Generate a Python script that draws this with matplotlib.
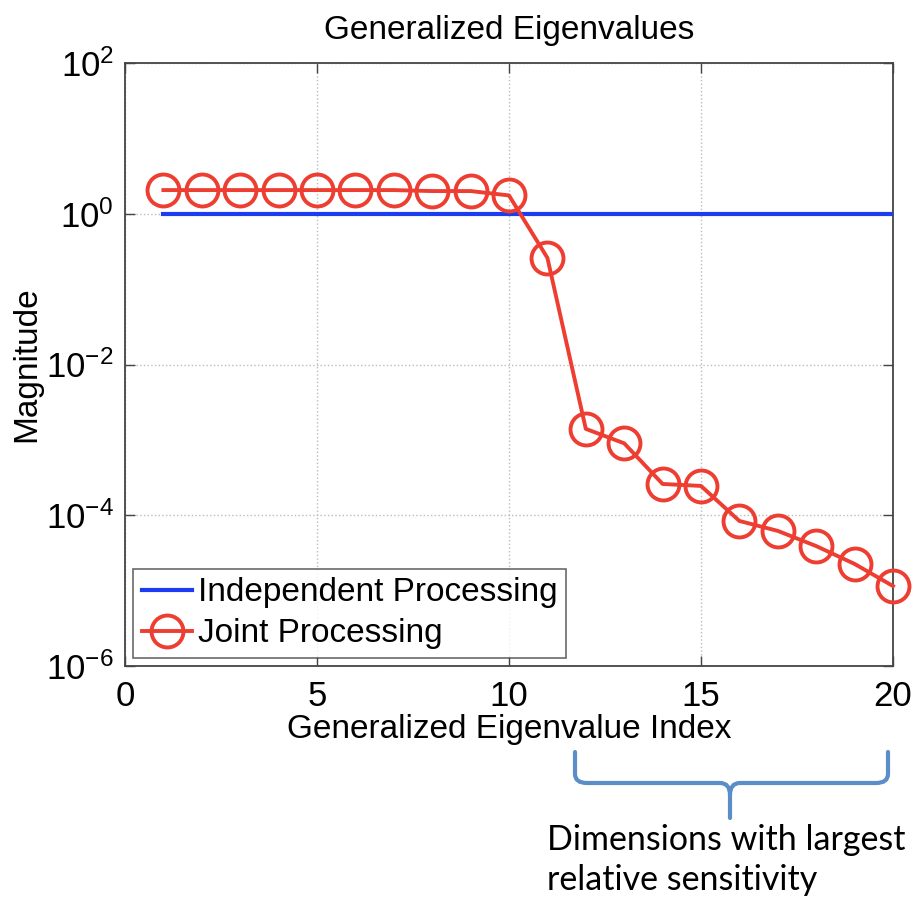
import matplotlib
matplotlib.use('Agg')
import matplotlib.pyplot as plt
from matplotlib.path import Path
from matplotlib.patches import PathPatch

plt.rcParams['font.family'] = ['Liberation Sans', 'DejaVu Sans']
plt.rcParams['mathtext.fontset'] = 'custom'
plt.rcParams['mathtext.rm'] = 'Liberation Sans'
plt.rcParams['mathtext.it'] = 'Liberation Sans'

# data
index = list(range(1, 21))
independent = [1.0] * 20
joint = [2.06, 2.06, 2.06, 2.06, 2.06, 2.06, 2.06, 2.0, 2.0, 1.75,
         0.26, 1.4e-3, 9.0e-4, 2.6e-4, 2.45e-4, 8.4e-5, 6.2e-5, 3.9e-5, 2.26e-5, 1.15e-5]
xticks = [0, 5, 10, 15, 20]
yticks = [1e-6, 1e-4, 1e-2, 1e0, 1e2]
ytick_labels = [r'$10^{-6}$', r'$10^{-4}$', r'$10^{-2}$', r'$10^{0}$', r'$10^{2}$']

W, H = 916, 902
fig = plt.figure(figsize=(W / 100, H / 100), dpi=100)
ax = fig.add_axes([125 / W, 1 - 666 / H, 768 / W, 603 / H])

ax.plot(index, independent, color='#1c3cf2', lw=3.0, label='Independent Processing', zorder=3)
ax.plot(index, joint, color='#ee3d31', lw=2.8, marker='o', markersize=23,
        markerfacecolor='none', markeredgewidth=2.8, label='Joint Processing',
        zorder=4, clip_on=False)

ax.set_yscale('log')
ax.set_xlim(0, 20)
ax.set_ylim(1e-6, 1e2)
ax.set_xticks(xticks)
ax.set_yticks(yticks)
ax.set_yticklabels(ytick_labels)
ax.minorticks_off()
ax.tick_params(direction='in', length=7, width=1, top=True, right=True,
               labelsize=25, color='#444444')
ax.tick_params(axis='x', pad=10)
ax.tick_params(axis='y', pad=8)
ax.grid(True, linestyle=':', color='#bbbbbb', lw=1)
for s in ax.spines.values():
    s.set_color('#444444')
    s.set_linewidth(1.3)

ax.set_title('Generalized Eigenvalues', fontsize=24, pad=17)
ax.set_xlabel('Generalized Eigenvalue Index', fontsize=24, labelpad=1)
ax.set_ylabel('Magnitude', fontsize=24, labelpad=3)

leg = ax.legend(loc='lower left', fontsize=24, frameon=True, fancybox=False,
                borderaxespad=0.25, handlelength=1.5, handletextpad=0.2,
                borderpad=0.25, labelspacing=0.3)
leg.get_frame().set_edgecolor('#444444')
leg.get_frame().set_linewidth(1.2)

# bracket under the x axis
def fp(x, y):
    return (x / W, 1 - y / H)

verts = [fp(575, 752), fp(575, 774), fp(575, 783), fp(587, 783),
         fp(720, 783), fp(730, 783), fp(730, 795), fp(730, 818),
         fp(730, 795), fp(730, 783), fp(740, 783),
         fp(876, 783), fp(888, 783), fp(888, 774), fp(888, 752)]
codes = [Path.MOVETO, Path.LINETO, Path.CURVE3, Path.CURVE3,
         Path.LINETO, Path.CURVE3, Path.CURVE3, Path.LINETO,
         Path.MOVETO, Path.CURVE3, Path.CURVE3,
         Path.LINETO, Path.CURVE3, Path.CURVE3, Path.LINETO]
fig.patches.append(PathPatch(Path(verts, codes), transform=fig.transFigure,
                             fill=False, edgecolor='#5b8ec9', lw=3, capstyle='round'))

fig.text(547 / W, 1 - 850 / H, 'Dimensions with largest', fontsize=24.5,
         family=['Lato', 'DejaVu Sans'], ha='left', va='baseline')
fig.text(547 / W, 1 - 890 / H, 'relative sensitivity', fontsize=24.5,
         family=['Lato', 'DejaVu Sans'], ha='left', va='baseline')

fig.savefig('out.png', dpi=100)
